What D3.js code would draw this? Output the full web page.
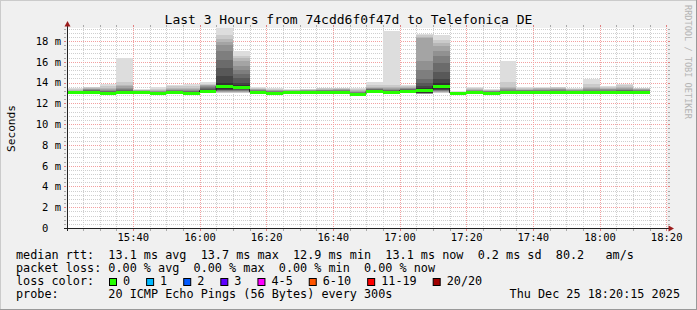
<!DOCTYPE html>
<html>
<head>
<meta charset="utf-8">
<script src="https://cdn.jsdelivr.net/npm/d3@7"></script>
<style>
  body { margin: 0; background: #f0f0f0; }
  text { font-family: "DejaVu Sans Mono", monospace; fill: #000; white-space: pre; }
</style>
</head>
<body>
<div id="chart"></div>
<script>
// 5 minute steps, 20 pings each (sorted), median rtt in ms
const barStart = ["15:20","15:25","15:30","15:35","15:40","15:45","15:50","15:55",
                  "16:00","16:05","16:10","16:15","16:20","16:25","16:30","16:35",
                  "16:40","16:45","16:50","16:55","17:00","17:05","17:10","17:15",
                  "17:20","17:25","17:30","17:35","17:40","17:45","17:50","17:55",
                  "18:00","18:05","18:10"];

const medianMs = [13.09,13.1,13.02,13.08,13.08,12.96,13.1,13.04,13.22,13.67,13.6,13.1,
                  13.04,13.08,13.08,13.08,13.1,12.92,13.22,13.12,13.22,13.25,13.67,13.02,
                  13.05,13.04,13.08,13.08,13.08,13.08,13.08,13.08,13.1,13.1,13.1];

const pings = [
  [12.92,12.96,12.99,13.01,13.03,13.04,13.05,13.06,13.07,13.08,13.1,13.11,13.12,13.14,13.16,13.19,13.22,13.27,13.35,13.47],
  [12.95,12.98,13.0,13.02,13.04,13.05,13.06,13.07,13.08,13.09,13.12,13.16,13.2,13.26,13.3,13.36,13.42,13.48,13.54,13.6],
  [12.88,12.92,12.95,12.97,12.98,12.99,13.0,13.0,13.01,13.02,13.03,13.06,13.1,13.14,13.2,13.28,13.38,13.5,13.66,13.86],
  [12.9,12.95,12.98,13.0,13.02,13.03,13.04,13.05,13.06,13.07,13.09,13.14,13.2,13.28,13.38,13.5,13.62,13.8,14.1,16.36],
  [12.95,12.98,13.0,13.02,13.03,13.04,13.05,13.06,13.07,13.07,13.09,13.12,13.14,13.16,13.19,13.22,13.25,13.28,13.32,13.38],
  [12.8,12.83,12.86,12.88,12.9,12.91,12.92,12.93,12.94,12.95,12.97,12.99,13.02,13.06,13.1,13.15,13.2,13.28,13.4,13.55],
  [12.95,12.98,13.0,13.02,13.04,13.05,13.06,13.07,13.08,13.09,13.11,13.15,13.18,13.22,13.27,13.33,13.4,13.5,13.62,13.75],
  [12.9,12.93,12.95,12.97,12.99,13.0,13.01,13.02,13.03,13.03,13.05,13.09,13.12,13.16,13.21,13.28,13.36,13.48,13.66,13.89],
  [13.0,13.05,13.08,13.1,13.13,13.15,13.17,13.19,13.2,13.21,13.23,13.3,13.38,13.46,13.55,13.64,13.72,13.8,13.9,14.05],
  [12.95,13.0,13.05,13.1,13.15,13.2,13.24,13.28,13.31,13.34,14.0,14.6,15.4,16.2,17.0,17.6,17.9,18.2,18.6,19.6],
  [12.95,13.0,13.05,13.1,13.15,13.2,13.25,13.3,13.35,13.4,13.8,14.0,14.4,14.8,15.2,15.6,16.1,16.4,16.6,17.0],
  [12.92,12.96,12.99,13.01,13.03,13.05,13.06,13.07,13.08,13.09,13.11,13.15,13.18,13.21,13.25,13.29,13.34,13.4,13.47,13.55],
  [12.88,12.91,12.94,12.96,12.98,12.99,13.0,13.01,13.02,13.03,13.05,13.08,13.1,13.13,13.16,13.2,13.25,13.3,13.37,13.45],
  [12.93,12.96,12.99,13.01,13.02,13.03,13.04,13.05,13.06,13.07,13.09,13.12,13.14,13.16,13.18,13.21,13.24,13.28,13.33,13.38],
  [12.92,12.95,12.98,13.0,13.02,13.03,13.04,13.05,13.06,13.07,13.09,13.12,13.15,13.18,13.21,13.24,13.28,13.32,13.37,13.42],
  [12.93,12.96,12.99,13.01,13.02,13.03,13.04,13.05,13.06,13.07,13.09,13.13,13.16,13.2,13.24,13.28,13.33,13.38,13.44,13.5],
  [12.95,12.98,13.0,13.02,13.04,13.05,13.06,13.07,13.08,13.09,13.11,13.15,13.18,13.22,13.26,13.3,13.35,13.4,13.45,13.5],
  [12.78,12.81,12.84,12.86,12.87,12.88,12.89,12.9,12.91,12.91,12.93,12.97,13.0,13.04,13.08,13.13,13.19,13.26,13.35,13.45],
  [12.95,13.0,13.05,13.08,13.11,13.14,13.16,13.18,13.2,13.21,13.23,13.27,13.3,13.34,13.38,13.43,13.5,13.6,13.78,14.05],
  [12.95,12.98,13.0,13.02,13.04,13.06,13.08,13.09,13.1,13.11,13.13,13.17,13.2,13.25,13.3,13.37,13.45,13.55,13.75,19.0],
  [13.0,13.04,13.08,13.1,13.13,13.15,13.17,13.19,13.2,13.21,13.23,13.27,13.3,13.34,13.38,13.43,13.5,13.58,13.68,13.8],
  [12.85,12.88,12.9,12.92,12.94,12.95,12.96,12.97,12.98,13.0,13.5,13.7,14.0,14.3,15.2,16.1,18.25,18.4,18.55,18.7],
  [12.95,13.0,13.05,13.1,13.15,13.2,13.24,13.28,13.31,13.34,14.0,14.3,15.0,15.9,16.6,17.0,17.5,17.8,18.1,18.6],
  [12.9,12.93,12.95,12.97,12.98,12.99,13.0,13.0,13.01,13.01,13.03,13.04,13.05,13.06,13.07,13.08,13.09,13.1,13.12,13.15],
  [12.9,12.93,12.96,12.98,13.0,13.01,13.02,13.03,13.04,13.04,13.06,13.1,13.13,13.17,13.21,13.26,13.32,13.4,13.5,13.6],
  [12.9,12.93,12.95,12.97,12.99,13.0,13.01,13.02,13.03,13.03,13.05,13.08,13.1,13.12,13.15,13.18,13.22,13.26,13.31,13.38],
  [12.92,12.95,12.98,13.0,13.02,13.03,13.04,13.05,13.06,13.07,13.09,13.13,13.17,13.22,13.28,13.35,13.45,13.6,14.05,16.05],
  [12.92,12.95,12.98,13.0,13.02,13.03,13.04,13.05,13.06,13.07,13.09,13.13,13.16,13.2,13.24,13.28,13.33,13.39,13.46,13.55],
  [12.92,12.95,12.98,13.0,13.02,13.03,13.04,13.05,13.06,13.07,13.09,13.13,13.17,13.21,13.25,13.3,13.36,13.43,13.5,13.6],
  [12.92,12.95,12.98,13.0,13.02,13.03,13.04,13.05,13.06,13.07,13.09,13.14,13.18,13.23,13.28,13.34,13.4,13.46,13.53,13.6],
  [12.92,12.95,12.98,13.0,13.02,13.03,13.04,13.05,13.06,13.07,13.09,13.12,13.15,13.18,13.22,13.26,13.31,13.36,13.42,13.5],
  [12.92,12.95,12.98,13.0,13.02,13.03,13.04,13.05,13.06,13.07,13.09,13.13,13.17,13.22,13.28,13.35,13.45,13.6,13.9,14.34],
  [12.95,12.98,13.0,13.02,13.04,13.05,13.06,13.07,13.08,13.09,13.11,13.15,13.19,13.23,13.28,13.34,13.41,13.48,13.56,13.65],
  [12.95,12.98,13.0,13.02,13.04,13.05,13.06,13.07,13.08,13.09,13.11,13.15,13.2,13.26,13.33,13.41,13.5,13.6,13.74,13.9],
  [12.95,12.98,13.0,13.02,13.04,13.05,13.06,13.07,13.08,13.09,13.11,13.15,13.18,13.22,13.26,13.3,13.35,13.4,13.45,13.5]
];

const yTicks = [0, 2, 4, 6, 8, 10, 12, 14, 16, 18];

const lossLabels = ["0", "1", "2", "3", "4-5", "6-10", "11-19", "20/20"];
const lossColors = ["#26ff00", "#00b8ff", "#0059ff", "#5e00ff", "#ff00ff", "#ff5500", "#ff0000", "#a00000"];

const legendRtt  = "median rtt:  13.1 ms avg  13.7 ms max  12.9 ms min  13.1 ms now  0.2 ms sd  80.2   am/s";
const legendLoss = "packet loss: 0.00 % avg  0.00 % max  0.00 % min  0.00 % now";
const legendProbe = "probe:       20 ICMP Echo Pings (56 Bytes) every 300s";
const stamp = "Thu Dec 25 18:20:15 2025";

const W = 697, H = 310;
const cL = 67, cR = 667, cT = 28, cB = 228;

const parse = d3.timeParse("%Y-%m-%d %H:%M:%S");
const t0 = parse("2025-12-25 15:20:15"), t1 = parse("2025-12-25 18:20:15");

const x = d3.scaleTime().domain([t0, t1]).range([cL, cR]);
const y = d3.scaleLinear().domain([0, 19.25]).range([cB, cT]);

const svg = d3.select("#chart").append("svg")
  .attr("width", W).attr("height", H);

// background and frame shading
svg.append("rect").attr("width", W).attr("height", H).attr("fill", "#f0f0f0");
svg.append("path").attr("d", `M0,${H} V0 H${W}`).attr("fill", "none")
  .attr("stroke", "#cbcbcb").attr("stroke-width", 2);
svg.append("path").attr("d", `M0,${H} H${W} V0`).attr("fill", "none")
  .attr("stroke", "#999").attr("stroke-width", 2);

svg.append("rect").attr("x", cL).attr("y", cT)
  .attr("width", cR - cL).attr("height", cB - cT).attr("fill", "#fff");

// grid
const minorY = d3.range(1, 49).filter(i => i % 5 !== 0).map(i => i * 0.4);
const minorX = d3.timeMinute.every(5).range(t0, t1).filter(d => d.getMinutes() % 20 !== 0);
const majorX = d3.timeMinute.every(20).range(t0, d3.timeMinute.offset(t1, 1));

const grid = svg.append("g");
const snap = v => Math.round(v) + 0.5;

grid.selectAll(".gy").data(minorY).enter().append("line")
  .attr("x1", cL).attr("x2", cR)
  .attr("y1", d => snap(y(d))).attr("y2", d => snap(y(d)))
  .attr("stroke", "#cfcfcf").attr("stroke-dasharray", "1,1");
grid.selectAll(".gx").data(minorX).enter().append("line")
  .attr("y1", cT).attr("y2", cB)
  .attr("x1", d => snap(x(d))).attr("x2", d => snap(x(d)))
  .attr("stroke", "#cfcfcf").attr("stroke-dasharray", "1,1");
grid.selectAll(".my").data(yTicks.slice(1)).enter().append("line")
  .attr("x1", cL).attr("x2", cR)
  .attr("y1", d => snap(y(d))).attr("y2", d => snap(y(d)))
  .attr("stroke", "#f2a0a0").attr("stroke-dasharray", "1,1");
grid.selectAll(".mx").data(majorX).enter().append("line")
  .attr("y1", cT).attr("y2", cB)
  .attr("x1", d => snap(x(d))).attr("x2", d => snap(x(d)))
  .attr("stroke", "#f2a0a0").attr("stroke-dasharray", "1,1");

// small ticks outside the canvas
const allY = minorY.concat(yTicks.slice(1));
const allX = minorX.concat(majorX);
grid.selectAll(".ty").data(allY).enter().append("path")
  .attr("d", d => `M${cL - 3},${snap(y(d))}h2M${cR + 1},${snap(y(d))}h2`)
  .attr("stroke", d => yTicks.includes(d) ? "#e08080" : "#aaa");
grid.selectAll(".tx").data(allX).enter().append("path")
  .attr("d", d => `M${snap(x(d))},${cB + 1}v2M${snap(x(d))},${cT - 3}v2`)
  .attr("stroke", d => d.getMinutes() % 20 === 0 ? "#e08080" : "#aaa");

// smoke
svg.append("clipPath").attr("id", "canvas").append("rect")
  .attr("x", cL).attr("y", cT).attr("width", cR - cL).attr("height", cB - cT);

const bars = barStart.map((s, i) => {
  const a = parse("2025-12-25 " + s + ":00");
  return { a: a, b: d3.timeMinute.offset(a, 5), p: pings[i], m: medianMs[i] };
});

const plot = svg.append("g").attr("clip-path", "url(#canvas)");
const shade = j => { const c = 221 - 19 * j; return d3.rgb(c, c, c); };

bars.forEach(d => {
  for (let j = 0; j < 10; j++) {
    const lo = d.p[j], hi = d.p[19 - j];
    plot.append("rect")
      .attr("x", Math.round(x(d.a)))
      .attr("width", Math.round(x(d.b)) - Math.round(x(d.a)))
      .attr("y", Math.round(y(hi)))
      .attr("height", Math.max(0, Math.round(y(lo)) - Math.round(y(hi))))
      .attr("fill", shade(j))
      .attr("shape-rendering", "crispEdges");
  }
});

// median step line and loss coloured band
const stepPts = bars.map(d => [x(d.a), y(d.m)]);
stepPts.push([x(bars[bars.length - 1].b), y(bars[bars.length - 1].m)]);
plot.append("path")
  .attr("d", d3.line().curve(d3.curveStepAfter)(stepPts))
  .attr("fill", "none").attr("stroke", "#202020").attr("stroke-width", 1);

plot.selectAll(".med").data(bars).enter().append("rect")
  .attr("x", d => Math.round(x(d.a)))
  .attr("width", d => Math.round(x(d.b)) - Math.round(x(d.a)))
  .attr("y", d => Math.round(y(d.m)) - 1)
  .attr("height", 3)
  .attr("fill", lossColors[0])
  .attr("shape-rendering", "crispEdges");

// axes
const yAxis = d3.axisLeft(y).tickValues(yTicks).tickSize(0).tickPadding(6)
  .tickFormat(d => d === 0 ? "0  " : d + " m");
const gy = svg.append("g").attr("transform", `translate(${cL},0)`).call(yAxis);
gy.select(".domain").remove();
gy.selectAll("text").style("font-size", "10.5px").style("font-family", "DejaVu Sans Mono");

const xAxis = d3.axisBottom(x).tickValues(majorX).tickSize(0).tickPadding(5.5)
  .tickFormat(d3.timeFormat("%H:%M"));
const gx = svg.append("g").attr("transform", `translate(0,${cB})`).call(xAxis);
gx.select(".domain").remove();
gx.selectAll("text").style("font-size", "10.5px").style("font-family", "DejaVu Sans Mono");

svg.append("line").attr("x1", cL + 0.5).attr("x2", cL + 0.5)
  .attr("y1", cB + 3).attr("y2", cT - 3).attr("stroke", "#222");
svg.append("line").attr("x1", cL - 3).attr("x2", cR + 3)
  .attr("y1", cB + 0.5).attr("y2", cB + 0.5).attr("stroke", "#222");
svg.append("path").attr("d", `M${cL + 0.5},21L${cL - 2.5},26.5L${cL + 3.5},26.5Z`).attr("fill", "#9b1c1c");
svg.append("path").attr("d", `M${cR + 7},${cB + 0.5}L${cR + 1.5},${cB - 2.5}L${cR + 1.5},${cB + 3.5}Z`).attr("fill", "#9b1c1c");

// titles
svg.append("text").attr("x", 348.5).attr("y", 24).attr("text-anchor", "middle")
  .style("font-size", "13px").text("Last 3 Hours from 74cdd6f0f47d to Telefonica DE");
svg.append("text").attr("transform", "translate(14.5,128.5) rotate(-90)")
  .attr("text-anchor", "middle").style("font-size", "11.2px").text("Seconds");
svg.append("text").attr("transform", "translate(684.5,5) rotate(90)")
  .style("font-size", "8.6px").style("fill", "#b4b4b4").text("RRDTOOL / TOBI OETIKER");

// legend
const lg = svg.append("g").style("font-size", "11.8px");
lg.append("text").attr("x", 16).attr("y", 258.5).text(legendRtt);
lg.append("text").attr("x", 16).attr("y", 271.5).text(legendLoss);
lg.append("text").attr("x", 16).attr("y", 284.8).text("loss color:");
lg.append("text").attr("x", 16).attr("y", 297.8).text(legendProbe);
lg.append("text").attr("x", 680).attr("y", 297.8).attr("text-anchor", "end").text(stamp);

let lx = 109;
lossLabels.forEach((lab, i) => {
  lg.append("rect").attr("x", lx + 0.5).attr("y", 278.5).attr("width", 7).attr("height", 7)
    .attr("fill", lossColors[i]).attr("stroke", "#000");
  const t = lg.append("text").attr("x", lx + 14).attr("y", 284.8).text(lab);
  lx = lx + 14 + t.node().getComputedTextLength() + 16;
});
</script>
</body>
</html>
